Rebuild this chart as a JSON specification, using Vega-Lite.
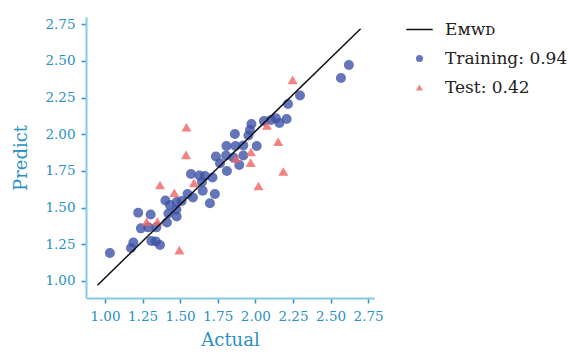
{
  "$schema": "https://vega.github.io/schema/vega-lite/v6.json",
  "autosize": "none",
  "width": 288,
  "height": 281,
  "padding": {"left": 86, "top": 17, "right": 194, "bottom": 54},
  "background": "white",
  "config": {
    "view": {"stroke": null},
    "font": "DejaVu Serif",
    "axis": {
      "grid": false,
      "domainColor": "#86c9e3",
      "domainWidth": 2,
      "tickColor": "#2a93c9",
      "tickWidth": 1.5,
      "tickSize": 5,
      "labelColor": "#2a8fc4",
      "labelFont": "DejaVu Serif",
      "labelFontSize": 13.5,
      "titleColor": "#2a8fc4",
      "titleFont": "DejaVu Serif",
      "titleFontSize": 18,
      "titleFontWeight": "normal"
    }
  },
  "datasets": {
    "pts": [
      {"series": "Training: 0.94", "actual": 1.033, "predict": 1.190},
      {"series": "Training: 0.94", "actual": 1.173, "predict": 1.224},
      {"series": "Training: 0.94", "actual": 1.189, "predict": 1.261},
      {"series": "Training: 0.94", "actual": 1.309, "predict": 1.272},
      {"series": "Training: 0.94", "actual": 1.339, "predict": 1.268},
      {"series": "Training: 0.94", "actual": 1.366, "predict": 1.244},
      {"series": "Training: 0.94", "actual": 1.239, "predict": 1.358},
      {"series": "Training: 0.94", "actual": 1.288, "predict": 1.365},
      {"series": "Training: 0.94", "actual": 1.342, "predict": 1.365},
      {"series": "Training: 0.94", "actual": 1.221, "predict": 1.465},
      {"series": "Training: 0.94", "actual": 1.304, "predict": 1.453},
      {"series": "Training: 0.94", "actual": 1.412, "predict": 1.398},
      {"series": "Training: 0.94", "actual": 1.422, "predict": 1.459},
      {"series": "Training: 0.94", "actual": 1.477, "predict": 1.439},
      {"series": "Training: 0.94", "actual": 1.475, "predict": 1.487},
      {"series": "Training: 0.94", "actual": 1.402, "predict": 1.548},
      {"series": "Training: 0.94", "actual": 1.432, "predict": 1.517},
      {"series": "Training: 0.94", "actual": 1.477, "predict": 1.538},
      {"series": "Training: 0.94", "actual": 1.510, "predict": 1.545},
      {"series": "Training: 0.94", "actual": 1.549, "predict": 1.592},
      {"series": "Training: 0.94", "actual": 1.585, "predict": 1.569},
      {"series": "Training: 0.94", "actual": 1.650, "predict": 1.615},
      {"series": "Training: 0.94", "actual": 1.698, "predict": 1.529},
      {"series": "Training: 0.94", "actual": 1.731, "predict": 1.592},
      {"series": "Training: 0.94", "actual": 1.572, "predict": 1.729},
      {"series": "Training: 0.94", "actual": 1.628, "predict": 1.719},
      {"series": "Training: 0.94", "actual": 1.665, "predict": 1.715},
      {"series": "Training: 0.94", "actual": 1.715, "predict": 1.705},
      {"series": "Training: 0.94", "actual": 1.645, "predict": 1.674},
      {"series": "Training: 0.94", "actual": 1.738, "predict": 1.848},
      {"series": "Training: 0.94", "actual": 1.805, "predict": 1.855},
      {"series": "Training: 0.94", "actual": 1.765, "predict": 1.802},
      {"series": "Training: 0.94", "actual": 1.811, "predict": 1.749},
      {"series": "Training: 0.94", "actual": 1.808, "predict": 1.920},
      {"series": "Training: 0.94", "actual": 1.868, "predict": 1.920},
      {"series": "Training: 0.94", "actual": 1.920, "predict": 1.924},
      {"series": "Training: 0.94", "actual": 2.009, "predict": 1.920},
      {"series": "Training: 0.94", "actual": 1.920, "predict": 1.855},
      {"series": "Training: 0.94", "actual": 1.854, "predict": 1.842},
      {"series": "Training: 0.94", "actual": 1.893, "predict": 1.790},
      {"series": "Training: 0.94", "actual": 1.864, "predict": 2.002},
      {"series": "Training: 0.94", "actual": 1.974, "predict": 2.070},
      {"series": "Training: 0.94", "actual": 1.964, "predict": 2.029},
      {"series": "Training: 0.94", "actual": 1.954, "predict": 1.992},
      {"series": "Training: 0.94", "actual": 2.057, "predict": 2.091},
      {"series": "Training: 0.94", "actual": 2.104, "predict": 2.098},
      {"series": "Training: 0.94", "actual": 2.137, "predict": 2.109},
      {"series": "Training: 0.94", "actual": 2.160, "predict": 2.077},
      {"series": "Training: 0.94", "actual": 2.208, "predict": 2.104},
      {"series": "Training: 0.94", "actual": 2.217, "predict": 2.207},
      {"series": "Training: 0.94", "actual": 2.297, "predict": 2.265},
      {"series": "Training: 0.94", "actual": 2.569, "predict": 2.384},
      {"series": "Training: 0.94", "actual": 2.622, "predict": 2.473},
      {"series": "Test: 0.42", "actual": 1.542, "predict": 2.048},
      {"series": "Test: 0.42", "actual": 1.539, "predict": 1.859},
      {"series": "Test: 0.42", "actual": 1.366, "predict": 1.654},
      {"series": "Test: 0.42", "actual": 1.461, "predict": 1.601},
      {"series": "Test: 0.42", "actual": 1.592, "predict": 1.668},
      {"series": "Test: 0.42", "actual": 1.277, "predict": 1.403},
      {"series": "Test: 0.42", "actual": 1.349, "predict": 1.405},
      {"series": "Test: 0.42", "actual": 1.495, "predict": 1.210},
      {"series": "Test: 0.42", "actual": 1.871, "predict": 1.835},
      {"series": "Test: 0.42", "actual": 1.971, "predict": 1.879},
      {"series": "Test: 0.42", "actual": 1.969, "predict": 1.807},
      {"series": "Test: 0.42", "actual": 2.021, "predict": 1.647},
      {"series": "Test: 0.42", "actual": 2.186, "predict": 1.746},
      {"series": "Test: 0.42", "actual": 2.152, "predict": 1.949},
      {"series": "Test: 0.42", "actual": 2.077, "predict": 2.060},
      {"series": "Test: 0.42", "actual": 2.248, "predict": 2.371}
    ],
    "fit": [
      {"series": "Eᴍᴡᴅ", "actual": 0.95, "predict": 0.97},
      {"series": "Eᴍᴡᴅ", "actual": 2.70, "predict": 2.72}
    ]
  },
  "layer": [
    {
      "data": {"name": "pts"},
      "mark": {"type": "point", "filled": true, "size": 100, "opacity": 0.8},
      "encoding": {
        "x": {
          "field": "actual", "type": "quantitative", "title": "Actual",
          "scale": {"domain": [0.874, 2.789], "nice": false, "zero": false},
          "axis": {"values": [1, 1.25, 1.5, 1.75, 2, 2.25, 2.5, 2.75], "format": ".2f", "titlePadding": 9, "labelPadding": 6}
        },
        "y": {
          "field": "predict", "type": "quantitative", "title": "Predict",
          "scale": {"domain": [0.883, 2.80], "nice": false, "zero": false},
          "axis": {"values": [1, 1.25, 1.5, 1.75, 2, 2.25, 2.5, 2.75], "format": ".2f", "titlePadding": 14, "labelPadding": 6}
        },
        "color": {
          "field": "series", "type": "nominal",
          "scale": {"domain": ["Eᴍᴡᴅ", "Training: 0.94", "Test: 0.42"], "range": ["#111111", "#3d52a8", "#f06464"]},
          "legend": {
            "title": null,
            "orient": "none",
            "legendX": 325,
            "legendY": 4,
            "labelFont": "DejaVu Serif",
            "labelFontSize": 17,
            "labelColor": "#222222",
            "labelOffset": 17,
            "rowPadding": 11,
            "symbolSize": 50,
            "symbolOpacity": 0.8,
            "encode": {
              "symbols": {
                "update": {
                  "size": {"signal": "datum.value == 'Eᴍᴡᴅ' ? 700 : 50"},
                  "stroke": {"signal": "datum.value == 'Eᴍᴡᴅ' ? '#111111' : null"},
                  "strokeWidth": {"signal": "datum.value == 'Eᴍᴡᴅ' ? 1.5 : 0"},
                  "opacity": {"signal": "datum.value == 'Eᴍᴡᴅ' ? 1 : 0.8"}
                }
              }
            }
          }
        },
        "shape": {
          "field": "series", "type": "nominal",
          "scale": {"domain": ["Eᴍᴡᴅ", "Training: 0.94", "Test: 0.42"], "range": ["stroke", "circle", "triangle-up"]}
        }
      }
    },
    {
      "data": {"name": "fit"},
      "mark": {"type": "line", "color": "#111111", "strokeWidth": 1.5},
      "encoding": {
        "x": {"field": "actual", "type": "quantitative"},
        "y": {"field": "predict", "type": "quantitative"}
      }
    }
  ]
}
